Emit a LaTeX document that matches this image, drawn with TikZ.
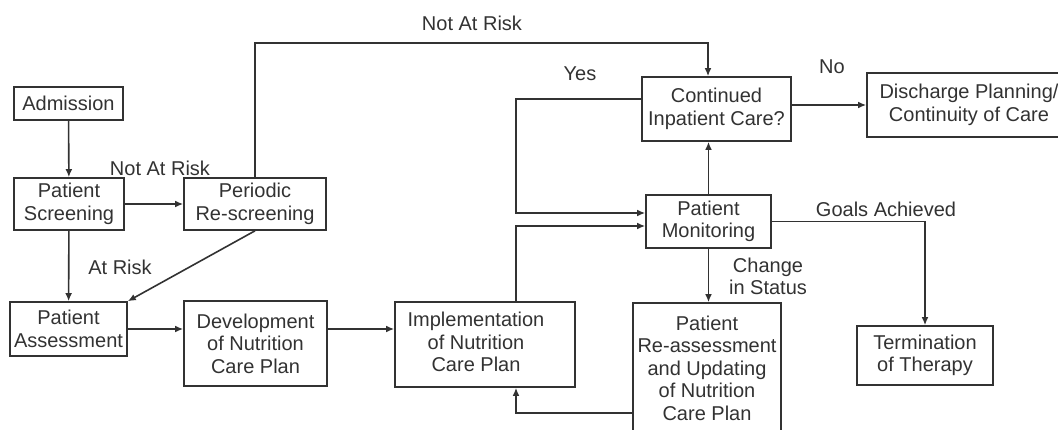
\documentclass[tikz,border=0pt]{standalone}
\usepackage{fontspec}
\setmainfont{Liberation Sans}
\usetikzlibrary{arrows.meta}
\definecolor{ink}{RGB}{50,50,50}

\begin{document}
\begin{tikzpicture}[x = 0.5pt, y = -0.5pt, color = ink,
  box/.style = {draw, line width = 0.8pt, align = center, inner sep = 0pt},
  arr/.style = {-{Latex[length = 4pt, width = 3.4pt]}, line width = 0.8pt},
  every node/.style = {font = \fontsize{10}{11.25}\selectfont, text = ink}]
\useasboundingbox (0, 0) rectangle (1058, 429);

% boxes
\node (adm) [box, minimum width = 54.5pt, minimum height = 16.5pt] at (68.5, 103.5) {Admission};
\node (scr) [box, minimum width = 55pt, minimum height = 26pt] at (69, 204) {Patient\\Screening};
\node (resc) [box, minimum width = 71pt, minimum height = 26pt] at (255, 204) {Periodic\\Re-screening};
\node (asm) [box, minimum width = 58.5pt, minimum height = 27pt] at (68.5, 329) {Patient\\Assessment};
\node (dev) [box, minimum width = 71.5pt, minimum height = 42.5pt] at (255.5, 343.5) {Development\\of Nutrition\\Care Plan};
\node (impl) [box, minimum width = 90pt, minimum height = 42.5pt] at (485, 344.5)
  {\begin{tabular}{@{}c@{}}Implementation\\of Nutrition\\Care Plan\end{tabular}\hspace{9pt}};
\node (cont) [box, minimum width = 74.5pt, minimum height = 32pt] at (716.5, 109) {Continued\\Inpatient Care?};
\node (dis) [box, minimum width = 102pt, minimum height = 32pt] at (969, 105) {Discharge Planning/\\Continuity of Care};
\node (mon) [box, minimum width = 62.5pt, minimum height = 26.5pt] at (708.5, 221.5) {Patient\\Monitoring};
\node (reas) [box, minimum width = 74pt, minimum height = 65pt] at (707, 368) {Patient\\Re-assessment\\and Updating\\of Nutrition\\Care Plan};
\node (term) [box, minimum width = 68pt, minimum height = 29.5pt] at (925, 355.5) {Termination\\of Therapy};

% bend points
\coordinate (nr) at (708, 43);
\coordinate (yt) at (516, 99);
\coordinate (yb) at (516, 213);
\coordinate (il) at (516, 226);
\coordinate (rl) at (516, 413);

% connectors
\draw [arr] (adm) -- (scr);
\draw [arr] (scr) -- (resc);
\draw [arr] (scr) -- (asm);
\draw [arr] (resc.south) -- (asm.north east);
\draw [arr] (resc.north) |- (nr) -- (cont.north -| nr);
\draw [arr] (asm.east) -- (asm.east -| dev.west);
\draw [arr] (dev.east |- asm.east) -- (impl.west |- asm.east);
\draw [arr] (impl.north -| il) -- (il) -- (mon.west |- il);
\draw [arr] (cont.west |- yt) -- (yt) -- (yb) -- (mon.west |- yb);
\draw [arr] (mon.north) -- (cont.south -| mon.north);
\draw [arr] ([yshift = 2pt]cont.east) -- ([yshift = 2pt]cont.east -| dis.west);
\draw [arr] (mon.east) -| (term.north);
\draw [arr] (mon.south) -- (reas.north -| mon.south);
\draw [arr] (reas.west |- rl) -- (rl) -- (impl.south -| rl);

% labels
\node (lnr1) at (160, 168) {Not At Risk};
\node (lnr2) at (472, 23) {Not At Risk};
\node (lar) at (120, 267) {At Risk};
\node (lyes) at (580, 74) {Yes};
\node (lno) at (832, 67) {No};
\node (lga) at (886, 209) {Goals Achieved};
\node (lcs) [align = center] at (768, 276.5) {Change\\in Status};
\end{tikzpicture}
\end{document}
